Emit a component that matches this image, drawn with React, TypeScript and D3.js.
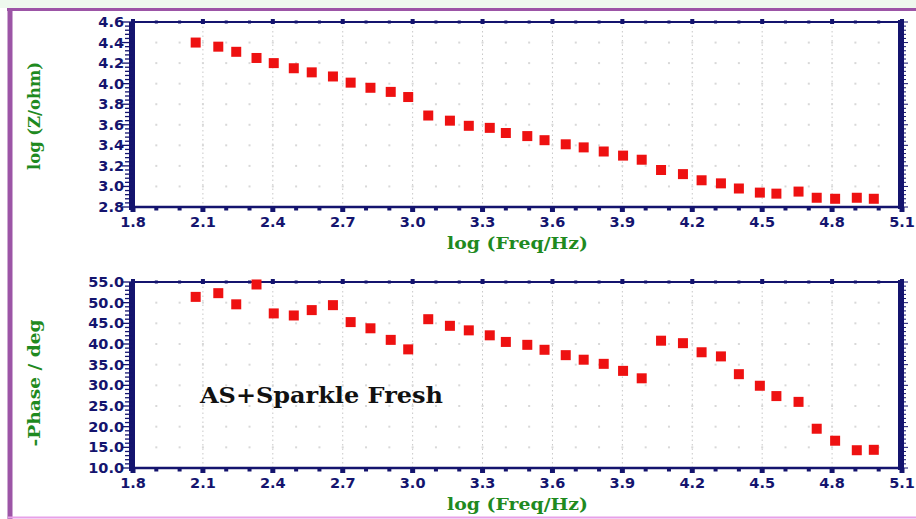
import * as d3 from "d3"

// log(Freq/Hz) positions of the measured points
const logFreq = [
  2.069, 2.166, 2.243, 2.33, 2.404, 2.49, 2.567, 2.658, 2.734, 2.819, 2.906, 2.981,
  3.067, 3.16, 3.241, 3.331, 3.4, 3.492, 3.566, 3.657, 3.734, 3.82, 3.903, 3.983,
  4.066, 4.16, 4.24, 4.323, 4.4, 4.49, 4.561, 4.656, 4.734, 4.813, 4.906, 4.979,
]

// log(Z/ohm)
const logZ = [
  4.4, 4.36, 4.31, 4.25, 4.2, 4.15, 4.11, 4.07, 4.01, 3.96, 3.92, 3.87,
  3.69, 3.64, 3.59, 3.57, 3.52, 3.49, 3.45, 3.41, 3.38, 3.34, 3.3, 3.26,
  3.16, 3.12, 3.06, 3.03, 2.98, 2.94, 2.93, 2.95, 2.89, 2.88, 2.89, 2.88,
]

// -Phase / deg
const phase = [
  51.4, 52.3, 49.6, 54.4, 47.4, 46.9, 48.2, 49.4, 45.3, 43.8, 41.0, 38.7,
  46.0, 44.4, 43.3, 42.1, 40.5, 39.8, 38.6, 37.3, 36.2, 35.2, 33.5, 31.7,
  40.8, 40.2, 38.0, 37.0, 32.7, 29.9, 27.4, 26.0, 19.5, 16.6, 14.3, 14.4,
]

const xTicks = [1.8, 2.1, 2.4, 2.7, 3.0, 3.3, 3.6, 3.9, 4.2, 4.5, 4.8, 5.1]
const zTicks = [2.8, 3.0, 3.2, 3.4, 3.6, 3.8, 4.0, 4.2, 4.4, 4.6]
const phaseTicks = [10, 15, 20, 25, 30, 35, 40, 45, 50, 55]

const NAVY = "#14146e"
const GREEN = "#1f8a1f"
const RED = "#ee1111"

interface PanelProps {
  top: number
  bottom: number
  yDomain: [number, number]
  yTicks: number[]
  yTitle: string
  yTitleLen: number
  yTitleY: number
  values: number[]
  children?: React.ReactNode
}

function Panel({ top, bottom, yDomain, yTicks, yTitle, yTitleLen, yTitleY, values, children }: PanelProps) {
  const left = 133
  const right = 902
  const x = d3.scaleLinear().domain([1.8, 5.1]).range([left, right])
  const y = d3.scaleLinear().domain(yDomain).range([bottom, top])

  const xMinor = d3.range(18, 52).map((v) => v / 10)
  const yStep = yTicks[1] - yTicks[0]
  const yMinor = d3.range(0, (yTicks.length - 1) * 5 + 1).map((i) => yDomain[0] + (i * yStep) / 5)

  return (
    <g>
      <rect x={left} y={top} width={right - left} height={bottom - top} fill="#ffffff" />
      {/* grid dots */}
      {xTicks.slice(1, -1).map((t) => (
        <line key={"vg" + t} x1={x(t)} x2={x(t)} y1={top} y2={bottom} stroke="#c8c8c8" strokeWidth={1} strokeDasharray="1.5,3" />
      ))}
      {xMinor.slice(1).map((t) =>
        yTicks.slice(1, -1).map((v) => (
          <rect key={"d" + t + "_" + v} x={x(t) - 1} y={y(v) - 1} width={2} height={2} fill="#d8d8d8" />
        )),
      )}
      {/* top and bottom axes */}
      <line x1={left} x2={right} y1={top} y2={top} stroke={NAVY} strokeWidth={2} />
      <line x1={left} x2={right} y1={bottom} y2={bottom} stroke={NAVY} strokeWidth={2.5} />
      {xMinor.map((t, i) => {
        const major = i % 3 === 0
        return (
          <g key={"xt" + t}>
            <rect x={x(t) - (major ? 2 : 1.5)} y={top - (major ? 3 : 1.5)} width={major ? 4 : 3} height={major ? 5 : 3} fill={NAVY} />
            <rect x={x(t) - (major ? 2.5 : 2)} y={bottom} width={major ? 5 : 4} height={major ? 5 : 3.5} fill={NAVY} />
          </g>
        )
      })}
      {/* left and right thick bars */}
      <rect x={left - 4} y={top} width={6} height={bottom - top + 3} fill={NAVY} />
      <rect x={right - 4} y={top - 2} width={6} height={bottom - top + 4} fill={NAVY} />
      {yMinor.map((v, i) => {
        const major = i % 5 === 0
        return (
          <g key={"yt" + i}>
            <line x1={left - (major ? 11 : 8)} x2={left} y1={y(v)} y2={y(v)} stroke={NAVY} strokeWidth={1.3} />
            <line x1={right} x2={right + (major ? 6 : 4)} y1={y(v)} y2={y(v)} stroke={NAVY} strokeWidth={1} />
          </g>
        )
      })}
      {/* tick labels */}
      {yTicks.map((v) => (
        <text key={"yl" + v} x={left - 9} y={y(v) + 5} textAnchor="end" fill={NAVY} fontSize={14.5} fontWeight="bold" fontFamily="DejaVu Sans">
          {v.toFixed(1)}
        </text>
      ))}
      {xTicks.map((t) => (
        <text key={"xl" + t} x={x(t)} y={bottom + 20} textAnchor="middle" fill={NAVY} fontSize={14.5} fontWeight="bold" fontFamily="DejaVu Sans">
          {t.toFixed(1)}
        </text>
      ))}
      {/* titles */}
      <text
        x={447}
        y={bottom + 42}
        fill={GREEN}
        fontSize={17}
        fontWeight="bold"
        fontFamily="DejaVu Serif"
        textLength={141}
        lengthAdjust="spacingAndGlyphs"
      >
        log (Freq/Hz)
      </text>
      <text
        transform={`translate(${40},${yTitleY}) rotate(-90)`}
        x={-yTitleLen / 2}
        fill={GREEN}
        fontSize={16}
        fontWeight="bold"
        fontFamily="DejaVu Serif"
        textLength={yTitleLen}
        lengthAdjust="spacingAndGlyphs"
      >
        {yTitle}
      </text>
      {/* data */}
      {values.map((v, i) => (
        <rect key={"p" + i} x={x(logFreq[i]) - 5} y={y(v) - 5} width={10} height={10} fill={RED} />
      ))}
      {children}
    </g>
  )
}

export default function App() {
  return (
    <svg width={916} height={519} style={{ position: "absolute", left: 0, top: 0, background: "#ffffff" }}>
      <rect x={0} y={0} width={916} height={519} fill="#ffffff" />
      <rect x={0} y={0} width={916} height={8} fill="#eef9ee" />
      {/* frame */}
      <line x1={7} x2={916} y1={9.5} y2={9.5} stroke="#9c55a6" strokeWidth={3} />
      <line x1={10} x2={10} y1={8} y2={519} stroke="#9c55a6" strokeWidth={5} />
      <line x1={8} x2={916} y1={517.5} y2={517.5} stroke="#e8a0e8" strokeWidth={2} />
      <Panel
        top={22}
        bottom={207}
        yDomain={[2.8, 4.6]}
        yTicks={zTicks}
        yTitle="log (Z/ohm)"
        yTitleLen={108}
        yTitleY={116}
        values={logZ}
      />
      <Panel
        top={282}
        bottom={468}
        yDomain={[10, 55]}
        yTicks={phaseTicks}
        yTitle="-Phase / deg"
        yTitleLen={127}
        yTitleY={383}
        values={phase}
      >
        <text
          x={200}
          y={403}
          fill="#111111"
          fontSize={22}
          fontWeight="bold"
          fontFamily="DejaVu Serif"
          textLength={243}
          lengthAdjust="spacingAndGlyphs"
        >
          AS+Sparkle Fresh
        </text>
      </Panel>
    </svg>
  )
}
